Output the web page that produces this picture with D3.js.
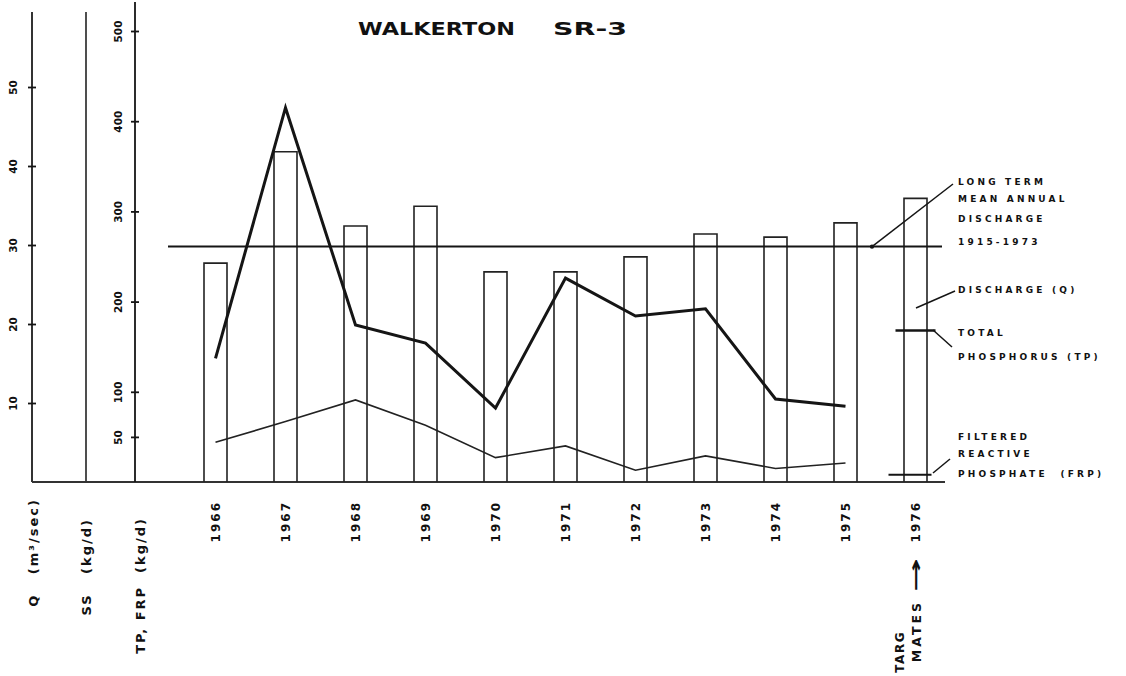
<!DOCTYPE html>
<html>
<head>
<meta charset="utf-8">
<script src="https://cdn.jsdelivr.net/npm/d3@7"></script>
<style>
  html, body { margin: 0; padding: 0; background: #fff; }
  svg { display: block; }
  text { font-family: "DejaVu Sans", Arial, sans-serif; fill: #111; }
</style>
</head>
<body>
<svg id="chart" width="1126" height="676"></svg>
<script>
// ---------------- DATA ----------------
const title = ["WALKERTON", "SR-3"];
const years = [1966, 1967, 1968, 1969, 1970, 1971, 1972, 1973, 1974, 1975];
const discharge = [27.7, 41.8, 32.4, 34.9, 26.6, 26.6, 28.5, 31.4, 31.0, 32.8]; // Q (m3/sec)
const totalP = [137, 415, 174, 154, 82, 226, 184, 192, 92, 84];                 // TP (kg/d)
const frp = [44, 67, 91, 63, 27, 40, 13, 29, 15, 21];                           // FRP (kg/d)
const targetYear = 1976;
const targetDischarge = 35.9;
const targetTP = 168;
const targetFRP = 8;
const meanDischarge = 29.8; // long term mean annual discharge 1915-1973
const qTicks = [10, 20, 30, 40, 50];
const tpTicks = [50, 100, 200, 300, 400, 500];
const axisTitles = ["Q   (m³/sec)", "SS   (kg/d)", "TP, FRP  (kg/d)"];
const targetWords = ["TARG", "MATES", "\u2192"];
const legendMean = ["LONG TERM", "MEAN ANNUAL", "DISCHARGE", "1915-1973"];
const legendQ = ["DISCHARGE (Q)"];
const legendTP = ["TOTAL", "PHOSPHORUS (TP)"];
const legendFRP = ["FILTERED", "REACTIVE", "PHOSPHATE  (FRP)"];

// ---------------- LAYOUT ----------------
const svg = d3.select("#chart");
const base = 482;
const x = d3.scaleLinear().domain([1966, 1976]).range([215.5, 915.5]);
const yQ = d3.scaleLinear().domain([0, 50]).range([base, 87]);
const yTP = d3.scaleLinear().domain([0, 500]).range([base, 31]);
const barW = 23;
const ink = "#151515";

// Title
svg.append("text").attr("x", 358).attr("y", 35).attr("textLength", 157).attr("lengthAdjust", "spacingAndGlyphs")
  .style("font-size", "18px").style("font-weight", "bold").text(title[0]);
svg.append("text").attr("x", 553).attr("y", 35).attr("textLength", 74).attr("lengthAdjust", "spacingAndGlyphs")
  .style("font-size", "18px").style("font-weight", "bold").text(title[1]);

// Axes lines
const axX = { q: 32, ss: 86, tp: 135 };
svg.append("line").attr("x1", axX.q).attr("x2", axX.q).attr("y1", 12).attr("y2", base)
  .attr("stroke", "#333").attr("stroke-width", 2);
svg.append("line").attr("x1", axX.ss).attr("x2", axX.ss).attr("y1", 12).attr("y2", base)
  .attr("stroke", "#222").attr("stroke-width", 1.6);
svg.append("line").attr("x1", axX.q).attr("x2", 945).attr("y1", base).attr("y2", base)
  .attr("stroke", "#333").attr("stroke-width", 2);

function styleAxis(g, labelOffset) {
  g.select(".domain").attr("stroke", ink).attr("stroke-width", 1.8);
  g.selectAll(".tick line").attr("x1", -4).attr("x2", 4).attr("stroke", ink).attr("stroke-width", 1.8);
  g.selectAll(".tick text")
    .attr("transform", "rotate(-90)")
    .attr("x", 0).attr("y", labelOffset).attr("dy", 0)
    .style("text-anchor", "middle")
    .style("font-size", "10.5px").style("font-weight", "bold")
    .style("font-family", "DejaVu Sans, Arial, sans-serif").attr("fill", ink);
}

const gQ = svg.append("g").attr("transform", `translate(${axX.q},0)`)
  .call(d3.axisLeft(yQ).tickValues(qTicks).tickSizeOuter(0).tickFormat(d3.format("d")));
gQ.select(".domain").remove();
styleAxis(gQ, -15);

const gTP = svg.append("g").attr("transform", `translate(${axX.tp},0)`)
  .call(d3.axisLeft(yTP).tickValues(tpTicks).tickSizeOuter(0).tickFormat(d3.format("d")));
gTP.select(".domain").attr("d", `M0,${base}V2`);
styleAxis(gTP, -13);

// Discharge bars (open rectangles)
const allYears = years.concat([targetYear]);
const allQ = discharge.concat([targetDischarge]);
svg.append("g").selectAll("path").data(allYears).join("path")
  .attr("d", (d, i) => {
    const x0 = x(d) - barW / 2, x1 = x(d) + barW / 2, yt = yQ(allQ[i]);
    return `M${x0},${base}V${yt}H${x1}V${base}`;
  })
  .attr("fill", "none").attr("stroke", "#222").attr("stroke-width", 1.6);

// Mean annual discharge line
svg.append("line").attr("x1", 168).attr("x2", 942)
  .attr("y1", yQ(meanDischarge)).attr("y2", yQ(meanDischarge))
  .attr("stroke", ink).attr("stroke-width", 2);

// TP and FRP lines
const line = (ys) => d3.line().x((d, i) => x(years[i])).y(d => ys(d));
svg.append("path").datum(totalP).attr("d", line(yTP))
  .attr("fill", "none").attr("stroke", ink).attr("stroke-width", 3);
svg.append("path").datum(frp).attr("d", line(yTP))
  .attr("fill", "none").attr("stroke", "#222").attr("stroke-width", 1.6);

// Targets 1976
svg.append("line").attr("x1", x(targetYear) - 20).attr("x2", x(targetYear) + 20)
  .attr("y1", yTP(targetTP)).attr("y2", yTP(targetTP)).attr("stroke", ink).attr("stroke-width", 2.5);
svg.append("line").attr("x1", x(targetYear) - 27).attr("x2", x(targetYear) + 16)
  .attr("y1", yTP(targetFRP)).attr("y2", yTP(targetFRP)).attr("stroke", ink).attr("stroke-width", 2);

// Year labels
svg.append("g").selectAll("text").data(allYears).join("text")
  .attr("transform", d => `translate(${x(d) + 4},501) rotate(-90)`)
  .style("text-anchor", "end").style("font-size", "12px").style("font-weight", "bold")
  .attr("letter-spacing", "2")
  .text(d => d);
// "TARG... MATES ->" under 1976
svg.append("text").attr("transform", `translate(${x(targetYear) + 6},592) rotate(-90)`)
  .attr("textLength", 34).attr("lengthAdjust", "spacingAndGlyphs")
  .style("font-size", "18px").style("font-weight", "bold")
  .text(targetWords[2]);
svg.append("text").attr("transform", `translate(${x(targetYear) + 5},600) rotate(-90)`)
  .style("text-anchor", "end").style("font-size", "12.5px").style("font-weight", "bold")
  .attr("letter-spacing", "3")
  .text(targetWords[1]);
svg.append("text").attr("transform", `translate(${x(targetYear) - 12},631) rotate(-90)`)
  .style("text-anchor", "end").style("font-size", "12px").style("font-weight", "bold")
  .attr("letter-spacing", "1.5")
  .text(targetWords[0]);

// Axis titles at the bottom
const titlePos = [[33, 498], [86, 518], [140, 517]];
svg.append("g").selectAll("text").data(axisTitles).join("text")
  .attr("transform", (d, i) => `translate(${titlePos[i][0] + 5},${titlePos[i][1]}) rotate(-90)`)
  .style("text-anchor", "end").style("white-space", "pre")
  .style("font-size", "13px").style("font-weight", "bold").attr("letter-spacing", "2")
  .text(d => d);

// Legend annotations
function legendBlock(lines, ys) {
  svg.append("g").selectAll("text").data(lines).join("text")
    .attr("x", 958).attr("y", (d, i) => ys[i] + 3)
    .style("font-size", "9px").style("font-weight", "bold").attr("letter-spacing", "3.2")
    .style("white-space", "pre")
    .text(d => d);
}
legendBlock(legendMean, [182, 199, 219, 242]);
legendBlock(legendQ, [290]);
legendBlock(legendTP, [333, 357]);
legendBlock(legendFRP, [437, 454, 474]);

// Leader lines
const leaders = [
  [[872, yQ(meanDischarge)], [953, 184]],
  [[916, 308], [955, 291]],
  [[933, 330], [952, 347]],
  [[933, 473], [950, 459]]
];
svg.append("g").selectAll("line").data(leaders).join("line")
  .attr("x1", d => d[0][0]).attr("y1", d => d[0][1])
  .attr("x2", d => d[1][0]).attr("y2", d => d[1][1])
  .attr("stroke", ink).attr("stroke-width", 1.5);
svg.append("circle").attr("cx", 872).attr("cy", yQ(meanDischarge)).attr("r", 2.2).attr("fill", ink);
</script>
</body>
</html>
